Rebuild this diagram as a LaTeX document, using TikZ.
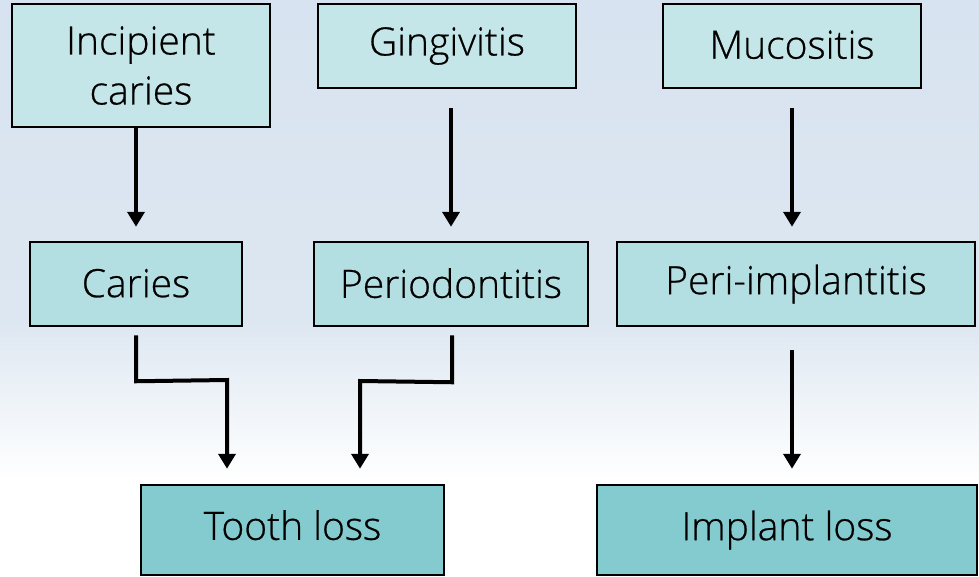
\documentclass[tikz,border=0pt]{standalone}
\usepackage{fontspec}
\setmainfont{Open Sans Light}[FakeBold=0.6]
\usetikzlibrary{arrows.meta,calc}
\definecolor{bgtop}{HTML}{D7E3F0}
\definecolor{bgmid}{HTML}{DDE7F1}
\definecolor{rowa}{HTML}{C5E6E8}
\definecolor{rowb}{HTML}{B3DFE2}
\definecolor{rowc}{HTML}{84CBD0}
\begin{document}
\begin{tikzpicture}[x=1pt,y=-1pt,
  box/.style={draw=black, line width=2.5pt, inner sep=0pt, align=center,
    font=\fontsize{39}{50}\selectfont},
  arr/.style={line width=4pt, -{Triangle[width=17pt,length=15pt]}}]
\useasboundingbox (0,0) rectangle (979,576);
\shade[top color=bgtop, bottom color=bgmid] (0,0) rectangle (979,320);
\shade[top color=bgmid, bottom color=white] (0,320) rectangle (979,480);
\fill[white] (0,480) rectangle (979,576);
% top row
\node[box, fill=rowa, minimum width=258pt, minimum height=123pt] (inc) at (141,65.5) {Incipient\\caries};
\node[box, fill=rowa, minimum width=258pt, minimum height=84pt] (ging) at (447,46) {\raisebox{3pt}{Gingivitis}};
\node[box, fill=rowa, minimum width=258pt, minimum height=84pt] (muc) at (792,46) {\raisebox{3pt}{Mucositis}};
% middle row
\node[box, fill=rowb, minimum width=212pt, minimum height=84pt] (car) at (136,284) {\raisebox{2pt}{Caries}};
\node[box, fill=rowb, minimum width=274pt, minimum height=84pt] (perio) at (451,284) {\raisebox{2pt}{Periodontitis}};
\node[box, fill=rowb, minimum width=358pt, minimum height=84pt] (peri) at (796,284) {\raisebox{2pt}{Peri-implantitis}};
% bottom row
\node[box, fill=rowc, minimum width=303pt, minimum height=90pt] (tooth) at (292.5,530) {\raisebox{10pt}{Tooth loss}};
\node[box, fill=rowc, minimum width=380pt, minimum height=90pt] (impl) at (787,530) {\raisebox{8pt}{Implant loss}};
% connectors
\draw[arr, shorten >=14pt] (inc.south -| car.north) -- (car.north);
\draw[arr, shorten <=19pt, shorten >=14pt] (perio.north |- ging.south) -- (perio.north);
\draw[arr, shorten <=19pt, shorten >=14pt] (muc.south) -- (muc.south |- peri.north);
\coordinate (cA) at ($(car.south)+(0,54)$);
\coordinate (cB) at (227,380);
\draw[arr, shorten <=8pt, shorten >=15pt] (car.south) -- (cA) -- (cB) -- (cB |- tooth.north);
\coordinate (pA) at ($(perio.south)+(1,55)$);
\coordinate (pB) at (360,381);
\draw[arr, shorten <=8pt, shorten >=15pt] ($(perio.south)+(1,0)$) -- (pA) -- (pB) -- (pB |- tooth.north);
\draw[arr, shorten <=23pt, shorten >=15pt] (muc.south |- peri.south) -- (muc.south |- impl.north);
\end{tikzpicture}
\end{document}
